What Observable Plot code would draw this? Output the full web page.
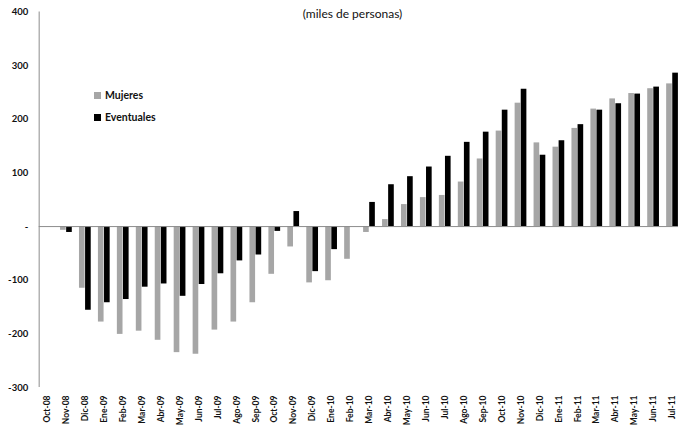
<!DOCTYPE html>
<html>
<head>
<meta charset="utf-8">
<script src="https://cdn.jsdelivr.net/npm/d3@7"></script>
<script src="https://cdn.jsdelivr.net/npm/@observablehq/plot@0.6"></script>
<style>
  html, body { margin: 0; padding: 0; background: #fff; }
  #wrap { position: relative; width: 678px; height: 427px; overflow: hidden; font-family: Lato, "Open Sans", sans-serif; }
  #sub { position: absolute; left: 0; width: 705px; top: 6px; text-align: center; font-size: 12px; color: #111; }
  .leg { position: absolute; font-size: 10.5px; font-weight: bold; color: #111; display: flex; align-items: center; }
  .leg i { display: inline-block; width: 7px; height: 7px; margin-right: 4px; }
</style>
</head>
<body>
<div id="wrap">
  <div id="chart"></div>
  <div id="sub">(miles de personas)</div>
  <div class="leg" style="left:94px; top:89px;"><i style="background:#a6a6a6"></i>Mujeres</div>
  <div class="leg" style="left:94px; top:111px;"><i style="background:#000"></i>Eventuales</div>
</div>
<script>
// Monthly change, thousands of people
const months = ["Oct-08","Nov-08","Dic-08","Ene-09","Feb-09","Mar-09","Abr-09","May-09","Jun-09","Jul-09","Ago-09","Sep-09","Oct-09","Nov-09","Dic-09","Ene-10","Feb-10","Mar-10","Abr-10","May-10","Jun-10","Jul-10","Ago-10","Sep-10","Oct-10","Nov-10","Dic-10","Ene-11","Feb-11","Mar-11","Abr-11","May-11","Jun-11","Jul-11"];
const mujeres = [null,-7,-115,-178,-201,-195,-212,-235,-238,-193,-178,-142,-89,-38,-105,-101,-61,-11,13,41,54,58,83,126,178,230,156,148,183,219,238,248,257,266];
const eventuales = [null,-11,-156,-142,-136,-113,-107,-130,-108,-88,-64,-53,-9,28,-84,-43,null,45,78,93,111,131,157,176,217,256,133,160,190,217,229,247,260,286];
const yTicks = [400,300,200,100,0,-100,-200,-300];

const rowsM = months.map((m, i) => ({month: m, value: mujeres[i]})).filter(d => d.value != null);
const rowsE = months.map((m, i) => ({month: m, value: eventuales[i]})).filter(d => d.value != null);

const chart = Plot.plot({
  width: 678,
  height: 427,
  marginTop: 11.5,
  marginBottom: 40,
  marginLeft: 38.7,
  marginRight: 0,
  style: {fontFamily: "Lato, 'Open Sans', sans-serif", background: "#fff"},
  x: {domain: months, range: [37.5, 681.5], paddingInner: 0.38, paddingOuter: 0.19, axis: null, label: null},
  y: {domain: [-300, 400], axis: null, label: null},
  marks: [
    Plot.barY(rowsM, {x: "month", y: "value", fill: "#a6a6a6", insetRight: 6.1}),
    Plot.barY(rowsE, {x: "month", y: "value", fill: "#000", insetLeft: 6.1}),
    Plot.ruleY([0], {stroke: "#8c8c8c", strokeWidth: 1}),
    Plot.ruleX([months[0]], {y1: 400, y2: -300, dx: -8.3, stroke: "#8c8c8c", strokeWidth: 1}),
    Plot.axisY({ticks: yTicks, tickFormat: d => d === 0 ? "-" : String(d), tickSize: 0, tickPadding: 11, label: null, fontWeight: "bold", fontSize: 9.5, fill: "#111"}),
    Plot.axisX({tickRotate: -90, tickSize: 0, tickPadding: 8, label: null, fontWeight: "bold", fontSize: 8.5, fill: "#111"})
  ]
});
document.getElementById("chart").appendChild(chart);
</script>
</body>
</html>
